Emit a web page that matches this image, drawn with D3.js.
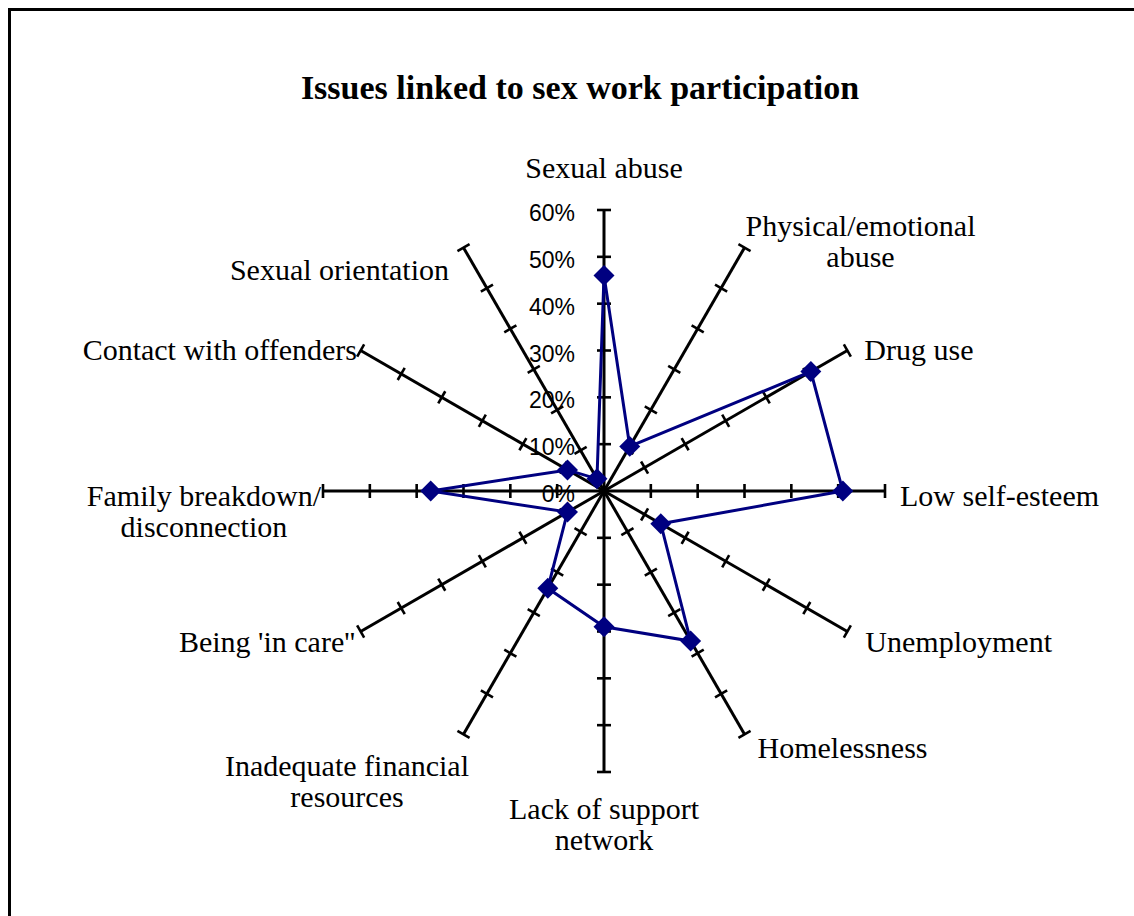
<!DOCTYPE html>
<html>
<head>
<meta charset="utf-8">
<script src="https://cdn.jsdelivr.net/npm/d3@7"></script>
<style>
  html, body { margin: 0; padding: 0; background: #fff; }
  svg { display: block; }
</style>
</head>
<body>
<svg id="chart" width="1134" height="916"></svg>
<script>
// ---- data ----
const title = "Issues linked to sex work participation";
const categories = [
  ["Sexual abuse"],
  ["Physical/emotional", "abuse"],
  ["Drug use"],
  ["Low self-esteem"],
  ["Unemployment"],
  ["Homelessness"],
  ["Lack of support", "network"],
  ["Inadequate financial", "resources"],
  ["Being 'in care''"],
  ["Family breakdown/", "disconnection"],
  ["Contact with offenders"],
  ["Sexual orientation"]
];
const values = [0.46, 0.11, 0.51, 0.51, 0.14, 0.37, 0.29, 0.24, 0.09, 0.37, 0.09, 0.03];
const tickValues = [0, 0.1, 0.2, 0.3, 0.4, 0.5, 0.6];

// ---- layout ----
const svg = d3.select("#chart");
const cx = 604, cy = 491;
const r = d3.scaleLinear().domain([0, 0.6]).range([0, 281]);
const n = categories.length;
const angle = d3.scaleLinear().domain([0, n]).range([0, 2 * Math.PI]);
const pt = (i, v) => {
  const a = angle(i);
  return [cx + r(v) * Math.sin(a), cy - r(v) * Math.cos(a)];
};

// border
svg.append("rect")
  .attr("x", 9.5).attr("y", 9.5)
  .attr("width", 1200).attr("height", 1000)
  .attr("fill", "none").attr("stroke", "#000").attr("stroke-width", 3);

// title
svg.append("text")
  .attr("x", 580).attr("y", 99)
  .attr("text-anchor", "middle")
  .attr("font-family", "'Liberation Serif', serif")
  .attr("font-weight", "bold")
  .attr("font-size", 34)
  .text(title);

// axes
const axes = svg.append("g");
d3.range(n).forEach(i => {
  const [x2, y2] = pt(i, 0.6);
  axes.append("line")
    .attr("x1", cx).attr("y1", cy).attr("x2", x2).attr("y2", y2)
    .attr("stroke", "#000").attr("stroke-width", 3);
  const a = angle(i);
  const px = Math.cos(a), py = Math.sin(a); // perpendicular direction
  tickValues.filter(t => t > 0).forEach(t => {
    const [tx, ty] = pt(i, t);
    axes.append("line")
      .attr("x1", tx - 7 * px).attr("y1", ty - 7 * py)
      .attr("x2", tx + 7 * px).attr("y2", ty + 7 * py)
      .attr("stroke", "#000").attr("stroke-width", 2.6);
  });
});

// tick labels along the first axis
svg.append("g").selectAll("text")
  .data(tickValues).join("text")
  .attr("x", cx - 29)
  .attr("y", d => cy - r(d) + 3)
  .attr("text-anchor", "end")
  .attr("dominant-baseline", "central")
  .attr("font-family", "'Liberation Sans', Arial, sans-serif")
  .attr("font-size", 23)
  .attr("fill", "#000")
  .text(d3.format(".0%"));

// data polygon
const line = d3.line().curve(d3.curveLinearClosed);
svg.append("path")
  .attr("d", line(values.map((v, i) => pt(i, v))))
  .attr("fill", "none").attr("stroke", "#000080").attr("stroke-width", 3)
  .attr("stroke-linejoin", "miter");

svg.append("g").selectAll("path")
  .data(values).join("path")
  .attr("transform", (v, i) => { const p = pt(i, v); return `translate(${p[0]},${p[1]}) rotate(45)`; })
  .attr("d", d3.symbol(d3.symbolSquare, 220)())
  .attr("fill", "#000080");

// category labels: [anchor side, dx to block edge, dy of first line centre] relative to axis end
const place = [
  ["middle", 0, -43],
  ["start", 1, -22],
  ["start", 17, -1.5],
  ["start", 15, 4],
  ["start", 18, 9.5],
  ["start", 13, 13],
  ["middle", 0, 36],
  ["end", 5.5, 31],
  ["end", -5.6, 9.5],
  ["end", -2, 4],
  ["end", -3.6, -1.5],
  ["end", -14.5, 22]
];
const lineH = 31;
const lab = svg.append("g")
  .attr("font-family", "'Liberation Serif', serif")
  .attr("font-size", 30)
  .attr("fill", "#000");
categories.forEach((lines, i) => {
  const [ex, ey] = pt(i, 0.6);
  const [side, dx, dy] = place[i];
  const g = lab.append("g");
  const texts = lines.map((s, k) => g.append("text")
    .attr("y", ey + dy + k * lineH)
    .attr("dominant-baseline", "central")
    .attr("text-anchor", "middle")
    .text(s));
  const w = d3.max(texts, t => t.node().getComputedTextLength());
  let bx;
  if (side === "start") bx = ex + dx + w / 2;
  else if (side === "end") bx = ex + dx - w / 2;
  else bx = ex + dx;
  texts.forEach(t => t.attr("x", bx));
});
</script>
</body>
</html>
